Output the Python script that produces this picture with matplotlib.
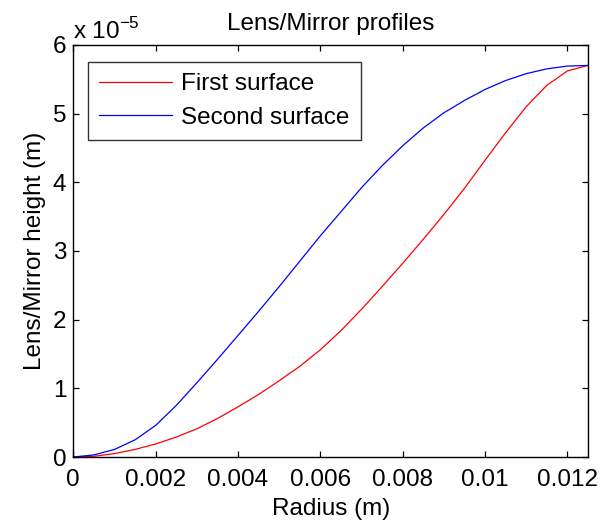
import matplotlib
matplotlib.use("Agg")
import matplotlib.pyplot as plt

plt.rcParams['font.family'] = ['Liberation Sans', 'DejaVu Sans']
plt.rcParams['mathtext.fontset'] = 'custom'
plt.rcParams['mathtext.rm'] = 'Liberation Sans'

# Radius (m)
radius = [0.0, 0.0005, 0.001, 0.0015, 0.002, 0.0025, 0.003, 0.0035, 0.004,
          0.0045, 0.005, 0.0055, 0.006, 0.0065, 0.007, 0.0075, 0.008, 0.0085,
          0.009, 0.0095, 0.010, 0.0105, 0.011, 0.0115, 0.012, 0.0125]

# Heights in units of 1e-5 m
first_surface = [0.0, 0.01, 0.05, 0.11, 0.19, 0.29, 0.41, 0.56, 0.73,
                 0.91, 1.11, 1.32, 1.56, 1.84, 2.15, 2.48, 2.82, 3.17,
                 3.53, 3.91, 4.32, 4.72, 5.10, 5.41, 5.62, 5.70]
second_surface = [0.0, 0.03, 0.11, 0.25, 0.46, 0.75, 1.08, 1.42, 1.77,
                  2.12, 2.48, 2.85, 3.22, 3.57, 3.92, 4.24, 4.53, 4.79,
                  5.01, 5.19, 5.35, 5.48, 5.58, 5.65, 5.69, 5.70]

x_ticks = [0, 0.002, 0.004, 0.006, 0.008, 0.010, 0.012]
x_tick_labels = ['0', '0.002', '0.004', '0.006', '0.008', '0.01', '0.012']
y_ticks = [0, 1, 2, 3, 4, 5, 6]
y_tick_labels = ['0', '1', '2', '3', '4', '5', '6']

W, H = 605, 524
fig = plt.figure(figsize=(W / 100, H / 100), dpi=100)
left, right, top, bottom = 73.3, 588.0, 44.8, 457.0
ax = fig.add_axes([left / W, 1 - bottom / H, (right - left) / W, (bottom - top) / H])

fs = 17.5
ax.plot(radius, first_surface, color='#ff0000', lw=0.9, label='First surface')
ax.plot(radius, second_surface, color='#0000ff', lw=0.9, label='Second surface')

ax.set_xlim(0, 0.0125)
ax.set_ylim(0, 6)
ax.set_xticks(x_ticks)
ax.set_xticklabels(x_tick_labels)
ax.set_yticks(y_ticks)
ax.set_yticklabels(y_tick_labels)
ax.tick_params(direction='in', top=True, right=True, length=4.5, width=0.9,
               labelsize=fs, colors='black')
ax.tick_params(axis='x', pad=9)
ax.tick_params(axis='y', pad=5)
for s in ax.spines.values():
    s.set_linewidth(1.0)

ax.set_xlabel('Radius (m)', fontsize=fs, labelpad=5)
ax.set_ylabel('Lens/Mirror height (m)', fontsize=fs, labelpad=5)
ax.set_title('Lens/Mirror profiles', fontsize=fs, pad=11)
ax.text(0.0, 1.015, r'x 10$^{-5}$', transform=ax.transAxes, fontsize=fs,
        ha='left', va='baseline')

leg = ax.legend(loc='upper left', bbox_to_anchor=((87.7 - left) / (right - left), (bottom - 62.3) / (bottom - top)),
                borderaxespad=0, fontsize=fs, frameon=True, fancybox=False,
                edgecolor='black', handlelength=3.0, handletextpad=0.4,
                labelspacing=0.47, borderpad=0.45)
leg.get_frame().set_linewidth(1.0)

fig.savefig('out.png', dpi=100)
